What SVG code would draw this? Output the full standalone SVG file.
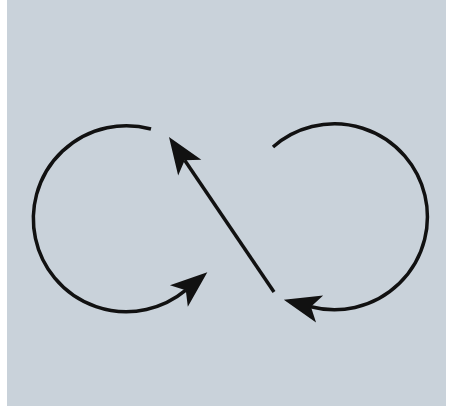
<svg xmlns="http://www.w3.org/2000/svg" width="457" height="406" viewBox="0 0 457 406">
  <style>
    .conn { fill: none; stroke: #111; stroke-width: 3.5; stroke-linecap: butt; }
    .head { fill: #111; stroke: none; }
  </style>
  <defs>
    <marker id="arrow" markerUnits="userSpaceOnUse" refX="0" refY="0" markerWidth="40" markerHeight="30" viewBox="-10 -15 40 30" orient="auto" overflow="visible">
      <path class="head" d="M28,0 L-9,-14 L0,0 L-9,14 Z"/>
    </marker>
  </defs>
  <rect x="0" y="0" width="457" height="406" fill="#ffffff"/>
  <rect id="background" x="7" y="0" width="439" height="406" fill="#c9d2da"/>
  <g id="connectors">
    <path id="left-loop" class="conn" d="M151,129 A93,93 0 1 0 185.8,290.2" marker-end="url(#arrow)"/>
    <path id="right-loop" class="conn" d="M273,147 A93,93 0 1 1 310.9,306.8" marker-end="url(#arrow)"/>
    <path id="diagonal" class="conn" d="M274,292 L184.7,160.2" marker-end="url(#arrow)"/>
  </g>
</svg>
